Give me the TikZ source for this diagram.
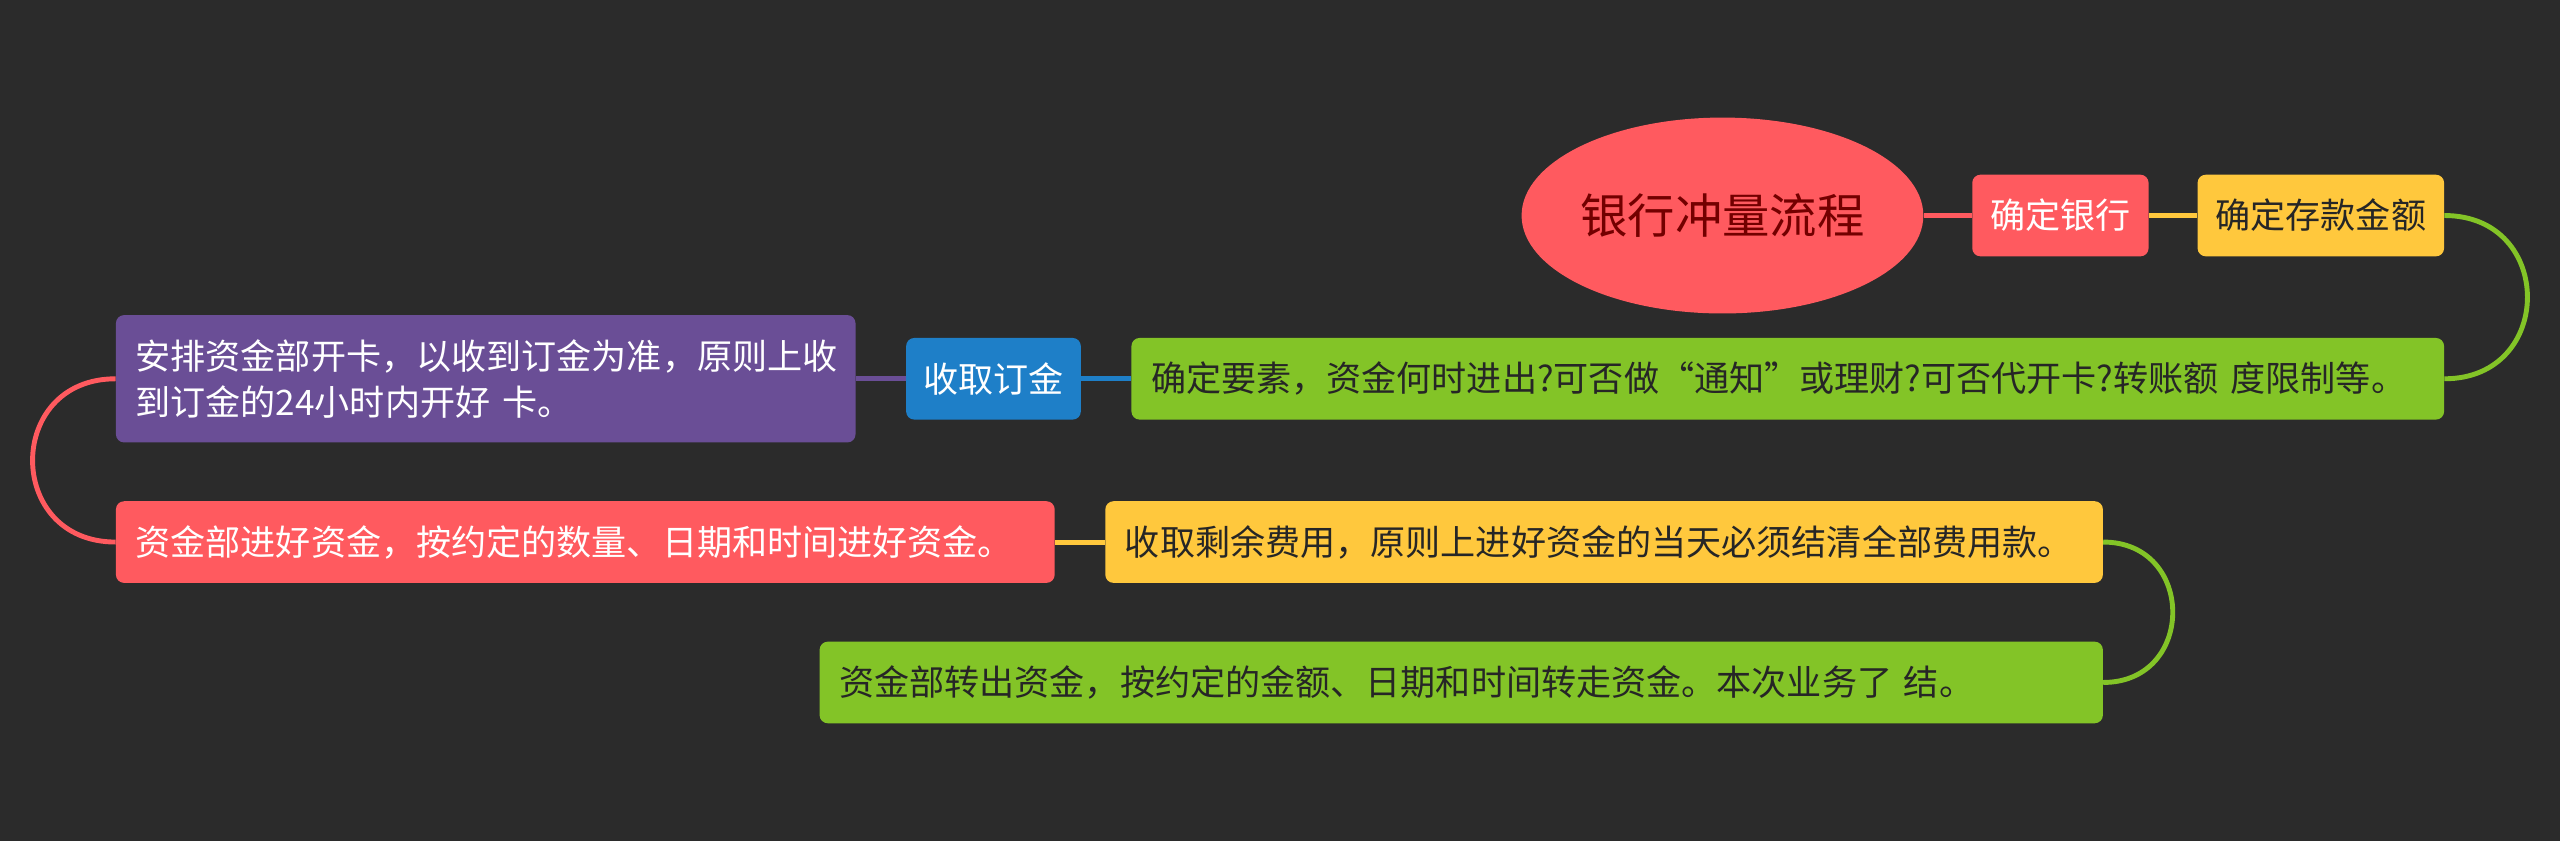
\documentclass[tikz,border=0pt]{standalone}
\usepackage{fontspec}
\setmainfont{Noto Sans CJK SC}
\usetikzlibrary{shapes.geometric}
\definecolor{bg}{HTML}{2B2B2B}
\definecolor{cred}{HTML}{FF5A5F}
\definecolor{cyel}{HTML}{FFC83D}
\definecolor{cgrn}{HTML}{83C427}
\definecolor{cblu}{HTML}{1E7FC8}
\definecolor{cpur}{HTML}{6A4E96}
\tikzset{
 bx/.style={rounded corners=5pt,inner sep=0pt,font=\fontsize{21.5}{28}\selectfont},
 lb/.style={bx,align=left,text width=#1},
 ln/.style={line width=3pt},
}
\begin{document}
\begin{tikzpicture}[x=1pt,y=-1pt]
\fill[bg] (0,0) rectangle (1568,515);
\useasboundingbox (0,0) rectangle (1568,515);
\node[ellipse,fill=cred,minimum width=244pt,minimum height=120pt,inner sep=0pt,text=red!45!black,font=\fontsize{29}{33}\selectfont] (root) at (1055,132) {银行冲量流程};
\node[bx,fill=cred,text=white,minimum width=108pt,minimum height=50pt] (bank) at (1262,132) {确定银行};
\node[bx,fill=cyel,text=black!85,minimum width=151pt,minimum height=50pt] (amt) at (1421.5,132) {确定存款金额};
\node[lb=780pt,fill=cgrn,text=black!85,minimum width=804pt,minimum height=50pt] (elem) at (1095,232) {确定要素，资金何时进出?可否做“通知”或理财?可否代开卡?转账额 度限制等。};
\node[bx,fill=cblu,text=white,minimum width=107pt,minimum height=50pt] (dep) at (608.5,232) {收取订金};
\node[lb=429pt,fill=cpur,text=white,minimum width=453pt,minimum height=78pt] (card) at (297.5,232) {安排资金部开卡，以收到订金为准，原则上收\\到订金的24小时内开好 卡。};
\node[lb=551pt,fill=cred,text=white,minimum width=575pt,minimum height=50pt] (fund) at (358.5,332) {资金部进好资金，按约定的数量、日期和时间进好资金。};
\node[lb=587pt,fill=cyel,text=black!85,minimum width=611pt,minimum height=50pt] (fee) at (982.5,332) {收取剩余费用，原则上进好资金的当天必须结清全部费用款。};
\node[lb=762pt,fill=cgrn,text=black!85,minimum width=786pt,minimum height=50pt] (out) at (895,418) {资金部转出资金，按约定的金额、日期和时间转走资金。本次业务了 结。};
\draw[ln,cred] (root.east) -- (bank.west);
\draw[ln,cyel] (bank.east) -- (amt.west);
\draw[ln,cgrn] (amt.east) .. controls (1565,132) and (1565,232) .. (elem.east);
\draw[ln,cblu] (elem.west) -- (dep.east);
\draw[ln,cpur] (dep.west) -- (card.east);
\draw[ln,cred] (card.west) .. controls (3,232) and (3,332) .. (fund.west);
\draw[ln,cyel] (fund.east) -- (fee.west);
\draw[ln,cgrn] (fee.east) .. controls (1345,332) and (1345,418) .. (out.east);
\end{tikzpicture}
\end{document}
